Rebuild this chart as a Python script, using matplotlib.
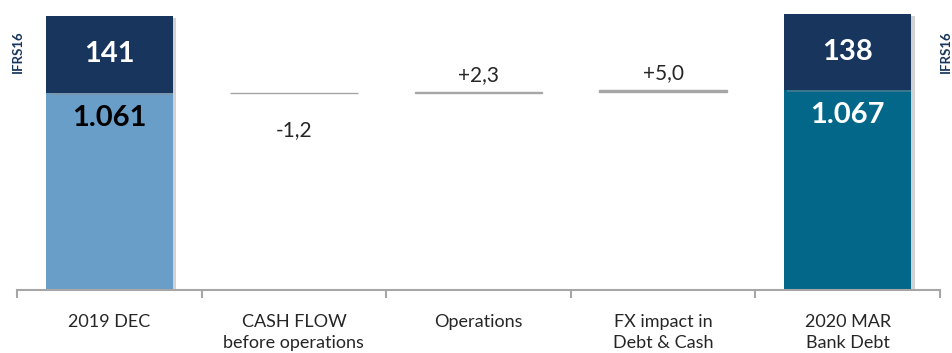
import matplotlib.pyplot as plt
import matplotlib.patheffects as pe
import numpy as np

# Datos del grafico
categories = ["2019 DEC", "CASH FLOW\nbefore operations", "Operations",
              "FX impact in\nDebt & Cash", "2020 MAR\nBank Debt"]
bank_debt = [1061, 1067]          # 2019 DEC, 2020 MAR
ifrs16 = [141, 138]
bank_labels = ["1.061", "1.067"]
changes = [-1.2, 2.3, 5.0]
change_labels = ["-1,2", "+2,3", "+5,0"]

plt.rcParams['font.family'] = ['Lato', 'DejaVu Sans']

NAVY = '#18365d'
LIGHT = '#699ec8'
TEAL = '#03678a'
GRAY = '#a6a6a6'
TXT = '#262626'

fig = plt.figure(figsize=(9.53, 3.53), dpi=100)
ax = fig.add_axes([17 / 953, 63 / 353, 923 / 953, 290 / 353])

x = np.arange(len(categories))
w = 0.69
shadow = [pe.SimplePatchShadow(offset=(2.5, -1.5), shadow_rgbFace='#909090', alpha=0.4), pe.Normal()]

# barras inicial y final
ends = [x[0], x[-1]]
base_cols = [LIGHT, TEAL]
for i, xi in enumerate(ends):
    b1 = ax.bar(xi, bank_debt[i] - 700, bottom=700, width=w, color=base_cols[i], zorder=2)
    b2 = ax.bar(xi, ifrs16[i], bottom=bank_debt[i], width=w, color=NAVY, zorder=2)
    for p in list(b1) + list(b2):
        p.set_path_effects(shadow)
    ax.text(xi, bank_debt[i] + ifrs16[i] / 2, str(ifrs16[i]), ha='center', va='center',
            color='white', fontsize=21, fontweight='bold', zorder=3)
    ax.annotate(bank_labels[i], (xi, bank_debt[i]), xytext=(0, -18), textcoords='offset points',
                ha='center', va='center', fontsize=21, fontweight='bold',
                color='black' if i == 0 else 'white', zorder=3)

# variaciones (cascada)
running = bank_debt[0]
for j, d in enumerate(changes):
    xi = x[j + 1]
    bottom = running if d >= 0 else running + d
    ax.bar(xi, abs(d), bottom=bottom, width=w, color=GRAY, edgecolor=GRAY,
           linewidth=1.0, zorder=2)
    if d >= 0:
        ax.annotate(change_labels[j], (xi, running + d), xytext=(0, 12), textcoords='offset points',
                    ha='center', va='center', fontsize=15, color=TXT)
    else:
        ax.annotate(change_labels[j], (xi, running + d), xytext=(0, -26), textcoords='offset points',
                    ha='center', va='center', fontsize=15, color=TXT)
    running += d

ax.set_xlim(-0.5, len(categories) - 0.5)
ax.set_ylim(700, 1231)

for s in ['top', 'right', 'left']:
    ax.spines[s].set_visible(False)
ax.spines['bottom'].set_color(GRAY)
ax.spines['bottom'].set_linewidth(1.5)
ax.set_yticks([])

ax.set_xticks(np.arange(-0.5, len(categories)), labels=[])
ax.tick_params(axis='x', which='major', length=6, width=1.5, color=GRAY, direction='out')
ax.set_xticks(x, labels=categories, minor=True)
ax.tick_params(axis='x', which='minor', length=0, pad=17, labelsize=13, labelcolor=TXT)
for lab in ax.get_xticklabels(minor=True):
    lab.set_linespacing(1.4)
    lab.set_va('top')

fig.text(18 / 953, 1 - 52 / 353, "IFRS16", rotation=90, ha='center', va='center',
         fontsize=9.5, fontweight='bold', color=NAVY)
fig.text(946 / 953, 1 - 52 / 353, "IFRS16", rotation=90, ha='center', va='center',
         fontsize=9.5, fontweight='bold', color=NAVY)

fig.savefig('out.png', dpi=100)
